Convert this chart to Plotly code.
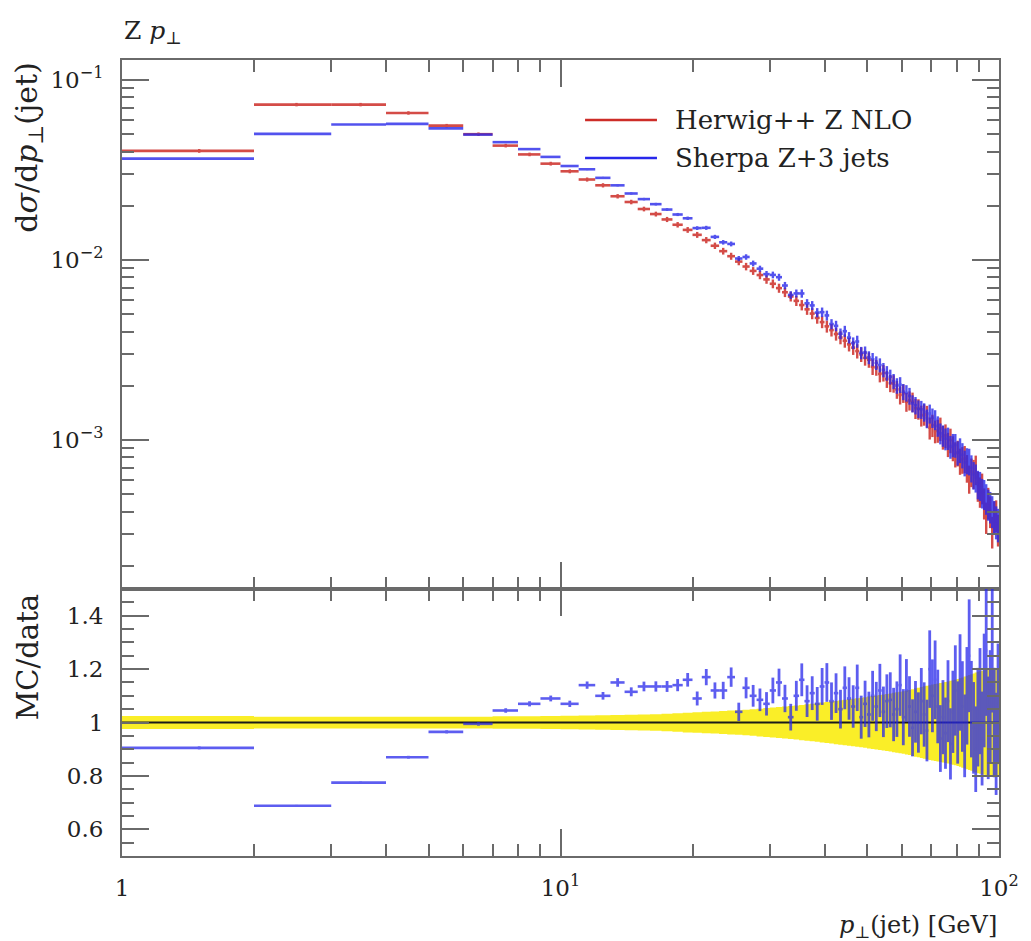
import numpy as np
import plotly.graph_objects as go

# 1 GeV wide bins in jet pT from 1 to 100 GeV
pt_edges = list(range(1, 101))

# Herwig++ Z NLO: dsigma/dpT(jet) per bin
herwig = [
    0.0404, 0.0730, 0.0730, 0.0656, 0.0558, 0.0500, 0.0432, 0.0386, 0.0343,
    0.0311, 0.0280, 0.0260, 0.0226, 0.0210, 0.0192, 0.0180, 0.0168, 0.0157, 0.0147,
    0.0138, 0.0129, 0.0120, 0.0112, 0.0105, 0.0098, 0.0092, 0.00870, 0.00825, 0.00780,
    0.00738, 0.00698, 0.00662, 0.00627, 0.00593, 0.00562, 0.00532, 0.00504, 0.00477, 0.00452,
    0.00428, 0.00408, 0.00388, 0.00371, 0.00356, 0.00340, 0.00326, 0.00312, 0.00299, 0.00286,
    0.00279, 0.00255, 0.00253, 0.00233, 0.00236, 0.00218, 0.00207, 0.00206, 0.00191, 0.00178,
    0.00182, 0.00163, 0.00166, 0.00163, 0.00150, 0.00149, 0.00137, 0.00139, 0.00136, 0.00117,
    0.00121, 0.00112, 0.00113, 0.00116, 0.00104, 0.00106, 0.000950, 0.00100, 0.000905, 0.000838,
    0.000852, 0.000768, 0.000781, 0.000790, 0.000702, 0.000612, 0.000668, 0.000655, 0.000690, 0.000560,
    0.000520, 0.000545, 0.000450, 0.000375, 0.000452, 0.000405, 0.000312, 0.000380, 0.000385, 0.000320,
]

# Relative uncertainty of the Herwig++ reference (yellow band in the ratio)
herwig_relerr = [
    0.024, 0.022, 0.022, 0.022, 0.022, 0.022, 0.023, 0.023, 0.024,
    0.025, 0.026, 0.027, 0.028, 0.029, 0.030, 0.031, 0.033, 0.035, 0.037,
    0.038, 0.040, 0.041, 0.043, 0.045, 0.046, 0.048, 0.050, 0.052, 0.054,
    0.056, 0.058, 0.060, 0.062, 0.064, 0.066, 0.068, 0.070, 0.072, 0.075,
    0.077, 0.079, 0.081, 0.083, 0.085, 0.087, 0.089, 0.091, 0.093, 0.095,
    0.097, 0.099, 0.101, 0.103, 0.105, 0.107, 0.109, 0.111, 0.113, 0.115,
    0.117, 0.120, 0.122, 0.125, 0.128, 0.130, 0.133, 0.136, 0.138, 0.140,
    0.142, 0.144, 0.146, 0.148, 0.150, 0.152, 0.154, 0.156, 0.158, 0.160,
    0.163, 0.166, 0.169, 0.172, 0.175, 0.178, 0.181, 0.184, 0.187, 0.190,
    0.192, 0.194, 0.196, 0.198, 0.200, 0.200, 0.200, 0.200, 0.200, 0.200,
]

# Sherpa Z+3 jets divided by the Herwig++ reference, per bin
sherpa_ratio = [
    0.905, 0.688, 0.775, 0.870, 0.965, 0.995, 1.045, 1.070, 1.090,
    1.070, 1.140, 1.100, 1.150, 1.115, 1.135, 1.135, 1.135, 1.140, 1.160,
    1.090, 1.170, 1.120, 1.120, 1.170, 1.040, 1.130, 1.100, 1.085, 1.070,
    1.120, 1.150, 1.090, 1.020, 1.100, 1.160, 1.080, 1.110, 1.070, 1.135,
    1.150, 1.080, 1.110, 1.050, 1.130, 1.090, 1.060, 1.130, 1.020, 1.070,
    1.030, 1.100, 1.060, 1.120, 1.040, 1.080, 1.085, 1.030, 1.050, 1.140,
    1.020, 1.120, 1.060, 0.980, 1.040, 1.000, 1.080, 1.030, 0.970, 1.200,
    1.100, 1.160, 1.060, 0.940, 1.020, 0.960, 1.080, 0.920, 1.040, 1.120,
    1.000, 1.150, 1.060, 0.950, 1.100, 1.250, 1.050, 0.980, 0.900, 1.020,
    1.080, 0.940, 1.120, 1.270, 0.980, 1.060, 1.300, 1.000, 0.920, 1.070,
]

# Relative statistical uncertainty of the Sherpa prediction
sherpa_relerr = [
    0.006, 0.005, 0.005, 0.006, 0.006, 0.007, 0.008, 0.009, 0.010,
    0.011, 0.012, 0.013, 0.014, 0.015, 0.016, 0.017, 0.018, 0.020, 0.022,
    0.024, 0.026, 0.027, 0.029, 0.031, 0.033, 0.035, 0.037, 0.039, 0.041,
    0.043, 0.045, 0.047, 0.049, 0.051, 0.053, 0.055, 0.057, 0.059, 0.061,
    0.063, 0.065, 0.067, 0.069, 0.071, 0.073, 0.075, 0.077, 0.079, 0.081,
    0.083, 0.085, 0.087, 0.089, 0.091, 0.093, 0.095, 0.097, 0.099, 0.101,
    0.103, 0.105, 0.107, 0.109, 0.111, 0.113, 0.115, 0.117, 0.119, 0.121,
    0.124, 0.127, 0.130, 0.133, 0.136, 0.139, 0.142, 0.145, 0.148, 0.151,
    0.154, 0.157, 0.160, 0.163, 0.166, 0.169, 0.172, 0.175, 0.178, 0.181,
    0.184, 0.187, 0.190, 0.193, 0.196, 0.199, 0.202, 0.205, 0.208, 0.211,
]

series_names = ["Herwig++ Z NLO", "Sherpa Z+3 jets"]

RED = "rgb(205,45,40)"
BLUE = "rgb(40,40,235)"
YELLOW = "rgb(250,238,40)"
FRAME = "#6a6a6a"
TEXT = "#222222"
FONT = "DejaVu Serif"

edges = np.array(pt_edges, dtype=float)
lo, hi = edges[:-1], edges[1:]
centres = 0.5 * (lo + hi)
h = np.array(herwig)
h_err = h * np.array(herwig_relerr)
ratio = np.array(sherpa_ratio)
s = h * ratio
s_err = s * np.array(sherpa_relerr)
ratio_err = ratio * np.array(sherpa_relerr)
ref_ratio = h / h


def binned(x, y, yerr, colour, xaxis, yaxis, opacity=1.0, vthick=2.2):
    # horizontal bar across the bin plus a vertical error bar, no point marker
    return go.Scatter(
        x=x, y=y, mode="markers", xaxis=xaxis, yaxis=yaxis, showlegend=False,
        opacity=opacity, hoverinfo="skip",
        marker=dict(size=1, color="rgba(0,0,0,0)", line=dict(width=0)),
        error_x=dict(type="data", symmetric=False, array=hi - x, arrayminus=x - lo,
                     width=0, thickness=2.6, color=colour),
        error_y=dict(type="data", array=yerr, width=0, thickness=vthick, color=colour),
    )


def steps(vals):
    return list(edges), list(vals) + [vals[-1]]


fig = go.Figure()

# main panel
fig.add_trace(binned(centres, h, h_err, RED, "x", "y", 0.85, 2.4))
fig.add_trace(binned(centres, s, s_err, BLUE, "x", "y", 0.8, 2.4))

# ratio panel: reference uncertainty band
bx, by_hi = steps(1 + np.array(herwig_relerr))
_, by_lo = steps(1 - np.array(herwig_relerr))
fig.add_trace(go.Scatter(x=bx, y=by_hi, mode="lines", line=dict(width=0, shape="hv"),
                         xaxis="x2", yaxis="y2", showlegend=False, hoverinfo="skip"))
fig.add_trace(go.Scatter(x=bx, y=by_lo, mode="lines", line=dict(width=0, shape="hv"),
                         fill="tonexty", fillcolor=YELLOW,
                         xaxis="x2", yaxis="y2", showlegend=False, hoverinfo="skip"))
rx, ry = steps(ref_ratio)
fig.add_trace(go.Scatter(x=rx, y=ry, mode="lines", line=dict(width=2, color="#1a1a1a", shape="hv"),
                         xaxis="x2", yaxis="y2", showlegend=False, hoverinfo="skip"))
fig.add_trace(binned(centres, ratio, ratio_err, BLUE, "x2", "y2", 0.75, 2.8))

split = 0.3354
major_len, minor_len = 27, 12
x_minor = [m * d for d in (1, 10) for m in range(2, 10)]
y_minor = [m * d for d in (1e-4, 1e-3, 1e-2) for m in range(2, 10)]
r_minor = [0.55, 0.65, 0.7, 0.75, 0.85, 0.9, 0.95, 1.05, 1.1, 1.15, 1.25, 1.3, 1.35, 1.45]

common = dict(
    showgrid=False, zeroline=False, showline=True, mirror="ticks",
    linecolor=FRAME, linewidth=2, ticks="inside", tickcolor=FRAME, tickwidth=1.6,
    ticklen=major_len, tickmode="array",
    tickfont=dict(family=FONT, size=23, color=TEXT),
)
minor_style = dict(ticks="inside", ticklen=minor_len, tickcolor=FRAME, tickwidth=1.6,
                   tickmode="array")

fig.update_layout(
    width=1031, height=941,
    margin=dict(l=122, r=27, t=60, b=85),
    plot_bgcolor="white", paper_bgcolor="white",
    showlegend=False,
    font=dict(family=FONT, color=TEXT),
    xaxis=dict(common, type="log", range=[0, 2], domain=[0, 1], anchor="y", matches="x2",
               tickvals=[1, 10, 100], showticklabels=False,
               minor=dict(minor_style, tickvals=x_minor)),
    yaxis=dict(common, type="log", range=[-3.8278, -0.8889], domain=[split, 1], anchor="x",
               tickvals=[1e-3, 1e-2, 1e-1],
               ticktext=["10<sup>\u22123</sup>", "10<sup>\u22122</sup>", "10<sup>\u22121</sup>"],
               ticklabelstandoff=12,
               minor=dict(minor_style, tickvals=y_minor)),
    xaxis2=dict(common, type="log", range=[0, 2], domain=[0, 1], anchor="y2",
                tickvals=[1, 10, 100], ticktext=["1", "10<sup>1</sup>", "10<sup>2</sup>"],
                ticklabelstandoff=10,
                minor=dict(minor_style, tickvals=x_minor)),
    yaxis2=dict(common, range=[0.5, 1.5], domain=[0, split], anchor="x2",
                tickvals=[0.6, 0.8, 1.0, 1.2, 1.4], ticktext=["0.6", "0.8", "1", "1.2", "1.4"],
                ticklabelstandoff=12,
                minor=dict(minor_style, tickvals=r_minor)),
)

annotations = [
    dict(text="Z <i>p</i><sub>\u22a5</sub>", x=0.0, y=1.0, xref="paper", yref="paper",
         xanchor="left", yanchor="bottom", yshift=10, showarrow=False,
         font=dict(family=FONT, size=25, color=TEXT)),
    dict(text="d<i>\u03c3</i>/d<i>p</i><sub>\u22a5</sub>(jet)", x=-0.107, y=1.0,
         xref="paper", yref="paper", xanchor="center", yanchor="top", textangle=-90,
         showarrow=False, font=dict(family=FONT, size=30, color=TEXT)),
    dict(text="MC/data", x=-0.107, y=split - 0.004, xref="paper", yref="paper",
         xanchor="center", yanchor="top", textangle=-90, showarrow=False,
         font=dict(family=FONT, size=29, color=TEXT)),
    dict(text="<i>p</i><sub>\u22a5</sub>(jet) [GeV]", x=1.0, y=-0.089, xref="paper",
         yref="paper", xanchor="right", yanchor="middle", showarrow=False,
         font=dict(family=FONT, size=24, color=TEXT)),
]

# legend drawn as sample lines with labels in the upper right of the main panel
legend_y = [0.9246, 0.8769]
for name, colour, ly in zip(series_names, [RED, BLUE], legend_y):
    fig.add_shape(type="line", xref="paper", yref="paper", x0=0.528, x1=0.610, y0=ly, y1=ly,
                  line=dict(color=colour, width=2.6))
    annotations.append(dict(text=name, x=0.628, y=ly, xref="paper", yref="paper",
                            xanchor="left", yanchor="middle", showarrow=False,
                            font=dict(family=FONT, size=26, color=TEXT)))

fig.update_layout(annotations=annotations)

fig.write_html("out.html")
